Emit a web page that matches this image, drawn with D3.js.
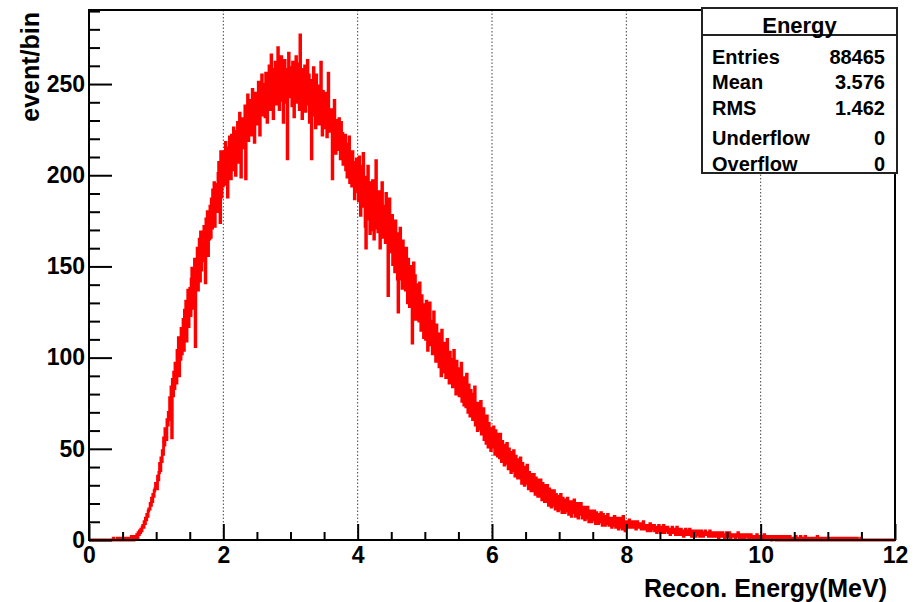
<!DOCTYPE html>
<html>
<head>
<meta charset="utf-8">
<script src="https://cdn.jsdelivr.net/npm/d3@7"></script>
<style>
  html, body { margin: 0; padding: 0; background: #ffffff; }
  svg { display: block; font-family: "Liberation Sans", Arial, Helvetica, sans-serif; font-weight: bold; }
</style>
</head>
<body>
<svg id="chart" width="920" height="602"></svg>
<script>
// Histogram "Energy": 1200 bins of 0.01 MeV between 0 and 12 MeV
const histName = "Energy";
const xMin = 0;
const xMax = 12;
const binWidth = 0.01;
const yMax = 290.6;

// bin contents, ten bins (0.1 MeV) per row
const counts = [
  0,0,0,0,0,0,0,0,0,0,
  0,0,0,0,0,0,0,0,0,0,
  0,0,0,0,0,0,0,0,0,0,
  0,0,0,0,0,0,1,0,0,0,
  0,0,1,0,0,0,0,1,0,0,
  0,1,0,0,1,0,0,0,1,0,
  1,0,1,2,0,1,0,1,2,1,
  2,3,1,4,3,5,4,6,5,7,
  8,7,10,9,12,11,14,13,16,17,
  17,20,19,23,21,25,24,27,28,31,
  31,28,35,33,37,42,38,45,43,49,
  47,56,52,61,57,55,66,63,70,68,
  78,66,84,56,88,79,92,83,97,89,
  86,104,95,111,90,106,99,116,102,112,
  121,104,126,112,131,109,127,137,117,132,
  138,123,143,149,127,145,133,154,106,147,
  153,160,137,157,165,142,169,148,162,167,
  153,172,158,141,176,161,180,156,177,165,
  183,166,187,171,192,176,196,172,194,181,
  195,180,201,207,182,174,213,188,209,194,
  204,213,195,218,199,209,188,215,206,221,
  210,198,222,214,203,226,211,219,200,224,
  218,229,207,222,234,215,199,227,220,231,
  226,215,238,198,231,222,244,219,235,228,
  233,241,222,247,229,238,218,245,236,231,
  240,228,251,236,222,246,239,255,233,244,
  238,250,232,256,244,229,252,241,260,236,
  249,266,240,254,231,258,245,262,239,251,
  244,270,253,236,259,248,265,241,256,229,
  252,263,240,258,246,209,255,267,243,250,
  247,259,238,262,251,232,257,244,265,240,
  253,243,261,236,277,249,255,231,258,246,
  248,260,235,252,243,263,239,255,229,250,
  243,209,252,238,259,233,247,226,255,241,
  237,249,228,244,231,262,235,222,246,233,
  239,226,245,231,221,240,256,228,235,224,
  227,236,198,233,219,241,225,212,230,221,
  226,214,231,218,209,229,215,223,206,220,
  212,222,203,217,199,214,208,221,196,210,
  205,194,213,199,207,187,202,196,209,191,
  201,186,210,192,178,205,196,183,212,188,
  195,172,160,199,181,205,176,190,168,196,
  188,170,197,179,165,192,184,208,171,186,
  169,191,176,160,185,174,196,166,183,171,
  178,163,190,170,181,134,174,187,158,176,
  160,178,151,172,163,147,175,154,168,143,
  125,166,150,171,143,160,138,164,152,147,
  156,137,160,145,130,154,141,128,150,136,
  147,108,141,152,127,145,121,140,132,124,
  136,120,141,126,115,134,122,129,111,127,
  128,110,131,117,104,124,113,130,107,119,
  120,102,116,125,106,112,98,118,109,100,
  113,95,110,102,90,115,99,106,92,108,
  104,89,100,110,92,98,86,103,95,91,
  99,84,96,104,87,93,80,98,89,85,
  94,79,90,85,97,76,88,83,74,89,
  84,73,91,78,70,85,79,68,82,74,
  80,66,77,71,84,63,74,69,60,75,
  73,61,70,76,58,67,64,72,55,66,
  62,53,68,58,51,64,57,60,49,61,
  59,51,62,55,47,60,53,58,46,56,
  55,45,58,50,43,54,48,52,41,50,
  51,42,53,46,39,50,44,48,37,47,
  47,38,49,42,35,46,40,44,34,43,
  43,34,45,38,31,42,36,40,30,39,
  39,31,41,34,28,37,33,36,27,35,
  35,27,36,31,25,34,29,32,24,33,
  32,24,33,28,22,31,26,29,21,30,
  29,21,30,25,19,28,24,26,18,27,
  26,19,27,22,17,25,21,24,16,24,
  24,17,25,20,15,23,19,22,15,22,
  22,16,23,18,14,21,19,20,13,21,
  21,15,22,17,13,20,18,19,12,20,
  19,14,20,16,12,18,15,17,11,18,
  17,12,18,14,10,16,13,15,10,16,
  15,11,16,13,9,15,12,14,9,14,
  14,10,15,12,8,14,11,13,8,13,
  13,9,14,11,8,12,10,12,7,12,
  12,8,13,10,7,11,9,12,6,11,
  11,7,12,9,6,13,8,10,5,10,
  9,7,10,8,11,7,9,8,10,7,
  8,10,7,9,6,8,10,7,8,9,
  7,9,6,8,7,10,6,8,7,6,
  7,5,8,6,7,9,5,7,6,8,
  6,8,5,7,6,4,7,6,8,5,
  6,4,7,5,6,8,4,6,5,7,
  5,7,4,6,5,3,6,5,7,4,
  5,4,6,3,5,7,4,5,3,6,
  4,6,3,5,4,2,5,4,6,3,
  4,3,5,4,6,3,4,2,5,4,
  4,3,5,2,4,3,5,4,3,2,
  3,5,3,4,2,4,3,5,3,4,
  3,4,2,3,5,3,2,4,3,3,
  2,3,4,3,2,4,3,1,3,4,
  3,2,3,4,2,3,1,3,2,4,
  2,3,2,4,3,1,2,3,2,3,
  2,3,1,2,3,2,4,2,1,3,
  2,1,3,2,2,3,1,2,3,2,
  2,3,1,2,1,3,2,2,1,2,
  1,2,2,1,3,1,2,1,2,1,
  2,1,1,2,1,3,1,2,1,1,
  1,2,1,1,2,1,0,2,1,2,
  1,1,2,0,1,2,1,1,0,2,
  1,0,1,2,1,1,0,1,2,1,
  0,1,1,2,0,1,1,0,1,1,
  1,0,2,1,0,1,1,0,1,2,
  0,1,1,0,1,0,2,1,0,1,
  1,0,1,1,0,1,0,1,1,0,
  0,1,0,1,2,0,1,0,1,0,
  1,0,1,0,0,1,0,1,0,1,
  0,1,0,0,1,0,1,0,0,1,
  0,0,1,0,1,0,0,1,0,0,
  1,0,0,1,0,0,1,0,0,0,
  0,1,0,0,0,1,0,0,1,0,
  0,0,0,1,0,0,0,0,0,1,
  0,0,0,0,0,0,0,0,0,0,
  0,0,0,0,0,0,0,0,0,0,
  0,0,0,0,0,0,0,0,0,0,
  0,0,0,0,0,0,0,0,0,0,
  0,0,0,0,0,0,0,0,0,0
];

const xTickValues = [0, 2, 4, 6, 8, 10, 12];
const xTickLabels = ["0", "2", "4", "6", "8", "10", "12"];
const yTickValues = [0, 50, 100, 150, 200, 250];
const yTickLabels = ["0", "50", "100", "150", "200", "250"];
const gridValues = [2, 4, 6, 8, 10];

const xTitle = "Recon. Energy(MeV)";
const yTitle = "event/bin";

const statNames = ["Entries", "Mean", "RMS", "Underflow", "Overflow"];
const statValues = ["88465", "3.576", "1.462", "0", "0"];

// ---- frame geometry ----
const frame = { left: 89, right: 895, top: 10, bottom: 540 };
const svg = d3.select("#chart");

const x = d3.scaleLinear().domain([xMin, xMax]).range([frame.left, frame.right]);
const y = d3.scaleLinear().domain([0, yMax]).range([frame.bottom, frame.top]);

// vertical dotted grid
svg.append("g")
  .selectAll("line")
  .data(gridValues)
  .join("line")
  .attr("x1", d => x(d)).attr("x2", d => x(d))
  .attr("y1", frame.top).attr("y2", frame.bottom)
  .attr("stroke", "#444")
  .attr("stroke-width", 1)
  .attr("stroke-dasharray", "1.5,2");

// step-line histogram
const steps = counts.map((c, i) => [xMin + i * binWidth, c]);
steps.push([xMin + counts.length * binWidth, counts[counts.length - 1]]);
const stepLine = d3.line()
  .x(d => x(d[0]))
  .y(d => y(d[1]))
  .curve(d3.curveStepAfter);

svg.append("path")
  .datum(steps)
  .attr("d", stepLine)
  .attr("fill", "none")
  .attr("stroke", "#ff0000")
  .attr("stroke-width", 2.8)
  .attr("stroke-linejoin", "miter");

// ---- axes (ticks point into the frame) ----
const xMajorLen = 16, xMinorLen = 8;
const yMajorLen = 23, yMinorLen = 11;

const xMinor = d3.range(0, 24.5, 1).map(k => k * 0.5).filter(v => v % 2 !== 0);
const yMinor = d3.range(0, 30, 1).map(k => k * 10).filter(v => v % 50 !== 0 && v < yMax);

const fontSize = 23;

const xAxisMinor = svg.append("g")
  .attr("transform", `translate(0,${frame.bottom})`)
  .call(d3.axisBottom(x).tickValues(xMinor).tickFormat("").tickSizeInner(-xMinorLen).tickSizeOuter(0));
const xAxis = svg.append("g")
  .attr("transform", `translate(0,${frame.bottom})`)
  .call(d3.axisBottom(x).tickValues(xTickValues)
    .tickFormat((d, i) => xTickLabels[i])
    .tickSizeInner(-xMajorLen).tickSizeOuter(0).tickPadding(7));

const yAxisMinor = svg.append("g")
  .attr("transform", `translate(${frame.left},0)`)
  .call(d3.axisLeft(y).tickValues(yMinor).tickFormat("").tickSizeInner(-yMinorLen).tickSizeOuter(0));
const yAxis = svg.append("g")
  .attr("transform", `translate(${frame.left},0)`)
  .call(d3.axisLeft(y).tickValues(yTickValues)
    .tickFormat((d, i) => yTickLabels[i])
    .tickSizeInner(-yMajorLen).tickSizeOuter(0).tickPadding(4));

[xAxisMinor, xAxis, yAxisMinor, yAxis].forEach(g => {
  g.select(".domain").remove();
  g.selectAll(".tick line").attr("stroke", "#000").attr("stroke-width", 2);
  g.selectAll(".tick text")
    .attr("fill", "#000")
    .style("font-family", "'Liberation Sans', Arial, Helvetica, sans-serif")
    .style("font-weight", "bold")
    .style("font-size", fontSize + "px");
});

// frame
svg.append("rect")
  .attr("x", frame.left).attr("y", frame.top)
  .attr("width", frame.right - frame.left)
  .attr("height", frame.bottom - frame.top)
  .attr("fill", "none")
  .attr("stroke", "#000")
  .attr("stroke-width", 2);

// axis titles
svg.append("text")
  .attr("x", 887).attr("y", 597)
  .attr("text-anchor", "end")
  .style("font-size", "25px")
  .attr("fill", "#000")
  .text(xTitle);

svg.append("text")
  .attr("transform", "translate(39,12) rotate(-90)")
  .attr("text-anchor", "end")
  .style("font-size", "25px")
  .attr("fill", "#000")
  .text(yTitle);

// ---- statistics box ----
const box = { x: 702, y: 8, w: 195, h: 165, sep: 35 };
const stats = svg.append("g");
stats.append("rect")
  .attr("x", box.x).attr("y", box.y)
  .attr("width", box.w).attr("height", box.h)
  .attr("fill", "#fff")
  .attr("stroke", "#222")
  .attr("stroke-width", 2);
stats.append("line")
  .attr("x1", box.x).attr("x2", box.x + box.w)
  .attr("y1", box.sep).attr("y2", box.sep)
  .attr("stroke", "#222").attr("stroke-width", 2);
stats.append("text")
  .attr("x", box.x + box.w / 2).attr("y", 33)
  .attr("text-anchor", "middle")
  .style("font-size", "22px")
  .attr("fill", "#000")
  .text(histName);

const rowBaselines = [64, 89, 115, 145, 171];
stats.selectAll("text.stat-name")
  .data(statNames)
  .join("text")
  .attr("class", "stat-name")
  .attr("x", 712)
  .attr("y", (d, i) => rowBaselines[i])
  .style("font-size", "20px")
  .attr("fill", "#000")
  .text(d => d);
stats.selectAll("text.stat-value")
  .data(statValues)
  .join("text")
  .attr("class", "stat-value")
  .attr("x", 885)
  .attr("y", (d, i) => rowBaselines[i])
  .attr("text-anchor", "end")
  .style("font-size", "20px")
  .attr("fill", "#000")
  .text(d => d);
</script>
</body>
</html>
